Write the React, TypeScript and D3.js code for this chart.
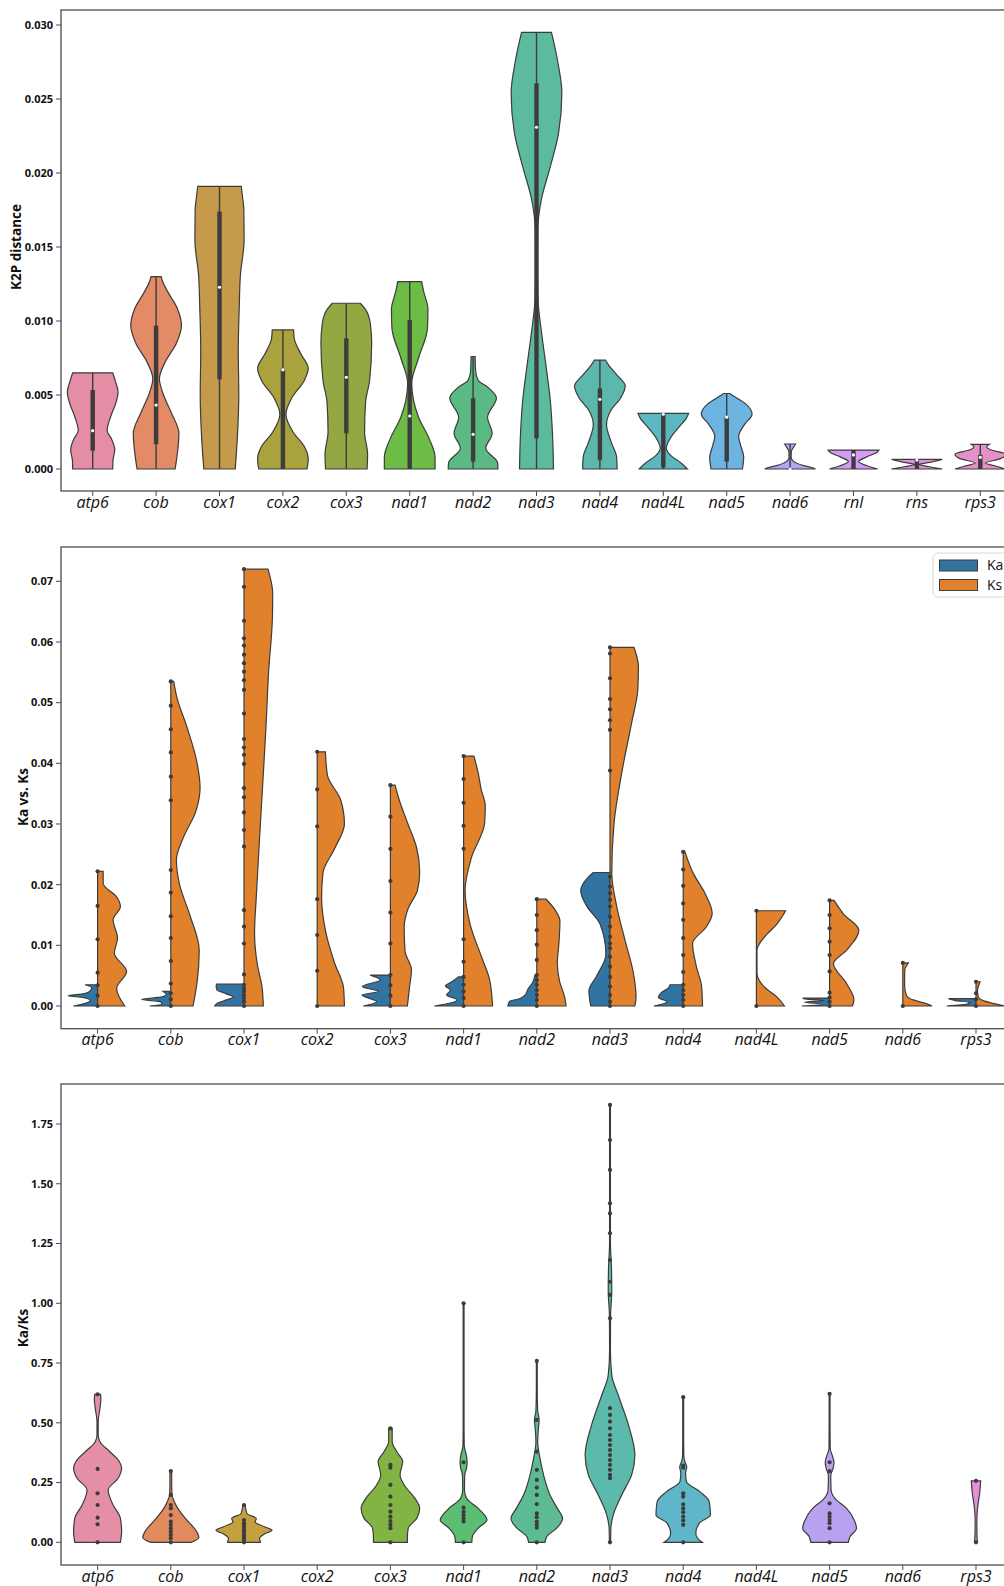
import React from 'react';
import * as d3 from 'd3';

type Prof = [number, number][];

const genesK2P = ['atp6', 'cob', 'cox1', 'cox2', 'cox3', 'nad1', 'nad2', 'nad3', 'nad4', 'nad4L', 'nad5', 'nad6', 'rnl', 'rns', 'rps3'];
const genesKaKs = ['atp6', 'cob', 'cox1', 'cox2', 'cox3', 'nad1', 'nad2', 'nad3', 'nad4', 'nad4L', 'nad5', 'nad6', 'rps3'];

const k2pColors = ['#e48da5', '#e38a66', '#c59a4a', '#a9a23d', '#93a843', '#6dbc45', '#5bba84', '#5cbb9e', '#5cb8ac', '#5bb8c1', '#6db4e3', '#b1a7f6', '#d59af3', '#de92e1', '#e68fc9'];
const ratioColors = ['#e58fa6', '#e18a5e', '#c4a03f', '#a9a23d', '#82b443', '#5cbe72', '#5cbb93', '#5bbaac', '#5eb6c8', '#5bb8c1', '#b8a2f0', '#b1a7f6', '#e58fd6'];
const kaColor = '#3274a1';
const ksColor = '#e1812c';

const k2pTicks = [0, 0.005, 0.01, 0.015, 0.02, 0.025, 0.03];
const kaksTicks = [0, 0.01, 0.02, 0.03, 0.04, 0.05, 0.06, 0.07];
const ratioTicks = [0, 0.25, 0.5, 0.75, 1.0, 1.25, 1.5, 1.75];

// violin outlines: [value, relative half width]
const k2pShape: Prof[] = [
  [[0, 0.79], [0.0006, 0.8], [0.0013, 0.87], [0.002, 0.75], [0.0026, 0.57], [0.0035, 0.7], [0.0045, 0.92], [0.0052, 1.0], [0.0059, 0.9], [0.0065, 0.79]],
  [[0, 0.75], [0.0008, 0.82], [0.0024, 0.9], [0.0038, 0.6], [0.0052, 0.25], [0.0061, 0.13], [0.0072, 0.35], [0.0085, 0.8], [0.0097, 1.0], [0.0108, 0.85], [0.012, 0.45], [0.0127, 0.25], [0.013, 0.2]],
  [[0, 0.62], [0.002, 0.7], [0.005, 0.76], [0.008, 0.74], [0.011, 0.78], [0.013, 0.82], [0.0155, 0.97], [0.0175, 0.96], [0.0185, 0.9], [0.0191, 0.86]],
  [[0, 0.95], [0.0007, 1.0], [0.0015, 0.85], [0.0025, 0.4], [0.0037, 0.12], [0.0048, 0.35], [0.006, 0.85], [0.0068, 1.0], [0.0078, 0.7], [0.0088, 0.45], [0.0094, 0.42]],
  [[0, 0.82], [0.001, 0.84], [0.0025, 0.72], [0.0045, 0.76], [0.006, 0.92], [0.0085, 1.0], [0.0098, 0.95], [0.0108, 0.75], [0.0112, 0.55]],
  [[0, 1.0], [0.0008, 1.0], [0.002, 0.78], [0.0035, 0.35], [0.0058, 0.08], [0.0075, 0.35], [0.0095, 0.7], [0.0108, 0.72], [0.012, 0.55], [0.01266, 0.47]],
  [[0, 0.98], [0.0004, 0.97], [0.0014, 0.5], [0.0024, 0.75], [0.0035, 0.57], [0.0048, 0.92], [0.0055, 0.6], [0.006, 0.2], [0.0066, 0.1], [0.0076, 0.08]],
  [[0, 0.67], [0.0024, 0.63], [0.0047, 0.54], [0.0069, 0.38], [0.0092, 0.2], [0.0114, 0.06], [0.0137, 0.03], [0.0159, 0.04], [0.0182, 0.19], [0.0204, 0.54], [0.0227, 0.87], [0.0254, 1.0], [0.0276, 0.83], [0.0295, 0.59]],
  [[0, 0.68], [0.0008, 0.66], [0.0018, 0.45], [0.003, 0.26], [0.004, 0.45], [0.0048, 0.82], [0.0056, 1.0], [0.0064, 0.65], [0.007, 0.35], [0.00736, 0.22]],
  [[0, 0.95], [0.0004, 0.7], [0.0009, 0.3], [0.0014, 0.12], [0.002, 0.25], [0.0028, 0.6], [0.0034, 0.9], [0.00376, 1.0]],
  [[0, 0.62], [0.0008, 0.67], [0.0016, 0.55], [0.0022, 0.47], [0.003, 0.7], [0.0037, 1.0], [0.0044, 0.75], [0.0049, 0.3], [0.0051, 0.12]],
  [[0, 1.0], [0.0001, 0.85], [0.00025, 0.5], [0.0005, 0.15], [0.0008, 0.04], [0.0012, 0.05], [0.0015, 0.15], [0.00169, 0.22]],
  [[0, 0.95], [0.0002, 0.55], [0.0005, 0.2], [0.0008, 0.5], [0.0011, 0.9], [0.00128, 1.0]],
  [[0, 1.0], [0.00015, 0.5], [0.0003, 0.08], [0.00045, 0.5], [0.00065, 1.0]],
  [[0, 1.0], [0.0002, 0.6], [0.0004, 0.2], [0.0007, 0.8], [0.001, 1.0], [0.0013, 0.4], [0.0015, 0.25], [0.00167, 0.36]],
];
const k2pQ1 = [0.00124, 0.00167, 0.00606, 0, 0.00241, 0, 0.0005, 0.00207, 0.0006, 0.0001, 0.0005, 0, 0, 0, 0];
const k2pMedian = [0.00259, 0.00432, 0.01228, 0.0067, 0.0062, 0.00358, 0.00234, 0.02309, 0.00471, 0.0037, 0.0035, 0, 0.00095, 0.0006, 0.00079];
const k2pQ3 = [0.00534, 0.00968, 0.01739, 0.00674, 0.00883, 0.01007, 0.00478, 0.02606, 0.00545, 0.0037, 0.00353, 0.00005, 0.00128, 0.00065, 0.00095];

const kaShape: Prof[] = [
  [[0, 0.83], [0.0004, 0.45], [0.0009, 0.25], [0.0014, 0.5], [0.0017, 1.0], [0.002, 0.5], [0.0025, 0.25], [0.003, 0.2], [0.0035, 0.43]],
  [[0, 0.72], [0.0003, 0.3], [0.0007, 0.35], [0.0011, 1.0], [0.0015, 0.3], [0.0019, 0.15], [0.0024, 0.26]],
  [[0, 1.0], [0.0005, 0.9], [0.001, 0.6], [0.0015, 0.37], [0.002, 0.6], [0.0027, 0.93], [0.0033, 0.95], [0.0036, 0.94]],
  [],
  [[0, 0.93], [0.0007, 0.47], [0.0018, 0.97], [0.0024, 0.42], [0.0032, 0.96], [0.0043, 0.35], [0.0051, 0.69]],
  [[0, 1.0], [0.0005, 0.45], [0.001, 0.22], [0.0018, 0.58], [0.0026, 0.45], [0.0033, 0.62], [0.004, 0.4], [0.0048, 0.18]],
  [[0, 0.99], [0.0008, 0.92], [0.0012, 0.6], [0.0018, 0.4], [0.0028, 0.3], [0.0038, 0.15], [0.0051, 0.06]],
  [[0, 0.66], [0.0025, 0.72], [0.005, 0.45], [0.0085, 0.14], [0.0135, 0.34], [0.0165, 0.8], [0.019, 1.0], [0.0212, 0.75], [0.022, 0.57]],
  [[0, 1.0], [0.0007, 0.55], [0.0014, 0.85], [0.0022, 0.75], [0.003, 0.5], [0.0035, 0.45]],
  [],
  [[0, 0.95], [0.0003, 0.2], [0.0006, 0.85], [0.0009, 0.2], [0.0012, 0.9], [0.0013, 0.9]],
  [],
  [[0, 1.0], [0.0003, 0.3], [0.0006, 0.2], [0.0009, 0.7], [0.0012, 0.94]],
];

const ksShape: Prof[] = [
  [[0, 0.93], [0.0029, 0.65], [0.0057, 0.99], [0.0087, 0.57], [0.0112, 0.68], [0.0142, 0.53], [0.0164, 0.78], [0.018, 0.65], [0.0202, 0.19], [0.0222, 0.19]],
  [[0, 0.76], [0.004, 0.9], [0.0092, 0.97], [0.015, 0.65], [0.02, 0.3], [0.0241, 0.19], [0.028, 0.45], [0.032, 0.85], [0.036, 1.0], [0.04, 0.9], [0.046, 0.55], [0.051, 0.2], [0.0535, 0.1]],
  [[0, 0.66], [0.003, 0.62], [0.007, 0.45], [0.012, 0.36], [0.018, 0.42], [0.025, 0.5], [0.035, 0.62], [0.045, 0.74], [0.055, 0.84], [0.064, 0.97], [0.068, 0.98], [0.072, 0.82]],
  [[0, 0.93], [0.003, 0.9], [0.007, 0.6], [0.012, 0.3], [0.018, 0.15], [0.022, 0.2], [0.026, 0.6], [0.03, 0.93], [0.034, 0.8], [0.038, 0.35], [0.0419, 0.28]],
  [[0, 0.58], [0.003, 0.65], [0.006, 0.72], [0.009, 0.5], [0.013, 0.47], [0.016, 0.6], [0.019, 0.92], [0.022, 1.0], [0.026, 0.9], [0.03, 0.6], [0.034, 0.3], [0.0364, 0.16]],
  [[0, 0.99], [0.0045, 0.88], [0.008, 0.62], [0.0135, 0.22], [0.0191, 0.05], [0.0245, 0.27], [0.0302, 0.72], [0.033, 0.74], [0.0357, 0.6], [0.0384, 0.5], [0.0412, 0.35]],
  [[0, 1.0], [0.0015, 0.95], [0.004, 0.78], [0.007, 0.7], [0.01, 0.75], [0.014, 0.79], [0.016, 0.6], [0.0176, 0.32]],
  [[0, 0.85], [0.0015, 0.89], [0.0054, 0.8], [0.0109, 0.51], [0.0164, 0.23], [0.0219, 0.06], [0.0302, 0.14], [0.0384, 0.4], [0.0467, 0.74], [0.0522, 0.95], [0.056, 0.97], [0.0591, 0.82]],
  [[0, 0.66], [0.0032, 0.63], [0.0065, 0.45], [0.0103, 0.32], [0.0131, 0.8], [0.0153, 0.99], [0.0186, 0.74], [0.0219, 0.34], [0.0254, 0.06]],
  [[0, 0.96], [0.0015, 0.7], [0.003, 0.3], [0.0054, 0.02], [0.0092, 0.02], [0.0115, 0.3], [0.0135, 0.7], [0.0157, 1.0]],
  [[0, 0.78], [0.001, 0.83], [0.0037, 0.58], [0.007, 0.13], [0.0092, 0.58], [0.0125, 1.0], [0.0152, 0.47], [0.0174, 0.15]],
  [[0, 1.0], [0.0004, 0.8], [0.001, 0.35], [0.0018, 0.12], [0.0035, 0.06], [0.006, 0.07], [0.0068, 0.15], [0.0071, 0.19]],
  [[0, 1.0], [0.0003, 0.7], [0.0008, 0.3], [0.0015, 0.08], [0.0025, 0.05], [0.0035, 0.1], [0.004, 0.14]],
];

const kaksPoints = [
  [0, 0.0017, 0.0034, 0.0055, 0.011, 0.0165, 0.0222],
  [0, 0.0011, 0.0021, 0.0037, 0.0074, 0.0112, 0.0148, 0.0187, 0.0224, 0.0339, 0.0378, 0.0418, 0.0456, 0.0495, 0.0535],
  [0, 0.0007, 0.0013, 0.0018, 0.0024, 0.0029, 0.0035, 0.0052, 0.0103, 0.0131, 0.0158, 0.0263, 0.029, 0.0319, 0.0344, 0.0359, 0.0399, 0.0414, 0.0426, 0.044, 0.0482, 0.0521, 0.0537, 0.0551, 0.0565, 0.0579, 0.0594, 0.0606, 0.0635, 0.0691, 0.072],
  [0, 0.0058, 0.0117, 0.0176, 0.0296, 0.0357, 0.0419],
  [0, 0.0017, 0.0034, 0.0051, 0.0103, 0.0154, 0.0206, 0.0259, 0.0312, 0.0364],
  [0, 0.0013, 0.0024, 0.0035, 0.0048, 0.0073, 0.011, 0.0259, 0.0297, 0.0335, 0.0374, 0.0412],
  [0, 0.001, 0.0018, 0.0026, 0.0035, 0.0043, 0.0051, 0.0076, 0.0101, 0.0125, 0.015, 0.0176],
  [0, 0.0007, 0.0018, 0.0032, 0.0048, 0.0065, 0.0081, 0.0095, 0.0103, 0.0114, 0.0131, 0.0147, 0.0164, 0.0175, 0.0186, 0.0197, 0.0213, 0.0388, 0.0455, 0.0471, 0.0489, 0.0506, 0.054, 0.0581, 0.0591],
  [0, 0.001, 0.0018, 0.0026, 0.0035, 0.0056, 0.0084, 0.0112, 0.0142, 0.0169, 0.0198, 0.0225, 0.0254],
  [0, 0.0157],
  [0, 0.0007, 0.0014, 0.0022, 0.0057, 0.0084, 0.0106, 0.0128, 0.015, 0.0174],
  [0, 0.0071],
  [0, 0.0011, 0.0021, 0.004],
];

const ratioShape: Prof[] = [
  [[0, 0.78], [0.045, 0.82], [0.1, 0.78], [0.156, 0.53], [0.219, 0.36], [0.268, 0.7], [0.31, 0.82], [0.338, 0.74], [0.379, 0.42], [0.421, 0.08], [0.449, 0.02], [0.505, 0.02], [0.56, 0.08], [0.6, 0.11], [0.619, 0.1]],
  [[0, 0.7], [0.02, 0.96], [0.045, 0.88], [0.1, 0.5], [0.14, 0.25], [0.17, 0.12], [0.2, 0.04], [0.25, 0.03], [0.298, 0.03]],
  [[0, 0.56], [0.017, 0.53], [0.035, 0.7], [0.05, 0.96], [0.065, 0.7], [0.085, 0.38], [0.1, 0.42], [0.12, 0.1], [0.156, 0.04]],
  [],
  [[0, 0.58], [0.024, 0.58], [0.059, 0.61], [0.1, 0.9], [0.142, 1.0], [0.184, 0.84], [0.24, 0.47], [0.282, 0.33], [0.338, 0.42], [0.379, 0.22], [0.421, 0.06], [0.477, 0.06]],
  [[0, 0.28], [0.024, 0.3], [0.059, 0.5], [0.093, 0.8], [0.142, 0.5], [0.184, 0.1], [0.22, 0.03], [0.282, 0.04], [0.31, 0.1], [0.335, 0.12], [0.36, 0.1], [0.407, 0.02], [0.5, 0.015], [1.0, 0.015]],
  [[0, 0.28], [0.024, 0.34], [0.059, 0.68], [0.1, 0.88], [0.142, 0.7], [0.198, 0.45], [0.282, 0.23], [0.351, 0.11], [0.421, 0.03], [0.47, 0.05], [0.512, 0.08], [0.55, 0.03], [0.65, 0.015], [0.759, 0.015]],
  [[0, 0.02], [0.059, 0.03], [0.114, 0.11], [0.198, 0.4], [0.282, 0.74], [0.365, 0.85], [0.491, 0.63], [0.616, 0.28], [0.7, 0.06], [0.8, 0.015], [0.95, 0.02], [1.05, 0.06], [1.15, 0.05], [1.25, 0.015], [1.83, 0.015]],
  [[0, 0.65], [0.015, 0.5], [0.038, 0.43], [0.08, 0.55], [0.114, 0.93], [0.17, 0.89], [0.212, 0.57], [0.254, 0.11], [0.29, 0.08], [0.315, 0.12], [0.34, 0.05], [0.365, 0.02], [0.45, 0.015], [0.607, 0.015]],
  [],
  [[0, 0.64], [0.024, 0.7], [0.059, 0.92], [0.087, 0.86], [0.142, 0.58], [0.184, 0.18], [0.22, 0.05], [0.28, 0.04], [0.31, 0.12], [0.335, 0.15], [0.36, 0.1], [0.393, 0.02], [0.5, 0.015], [0.621, 0.015]],
  [],
  [[0, 0.05], [0.05, 0.03], [0.1, 0.03], [0.15, 0.06], [0.2, 0.12], [0.2566, 0.16]],
];

const ratioPoints = [
  [0, 0.075, 0.103, 0.156, 0.205, 0.307, 0.619],
  [0, 0.017, 0.031, 0.045, 0.059, 0.073, 0.087, 0.114, 0.142, 0.156, 0.198, 0.298],
  [0, 0.01, 0.02, 0.03, 0.04, 0.05, 0.06, 0.07, 0.08, 0.093, 0.156],
  [],
  [0, 0.059, 0.073, 0.089, 0.107, 0.128, 0.156, 0.191, 0.24, 0.312, 0.324, 0.477],
  [0, 0.087, 0.1, 0.114, 0.128, 0.145, 0.335, 1.0],
  [0, 0.061, 0.073, 0.087, 0.105, 0.121, 0.16, 0.198, 0.229, 0.261, 0.303, 0.379, 0.512, 0.759],
  [0, 0.268, 0.282, 0.303, 0.324, 0.344, 0.365, 0.386, 0.407, 0.428, 0.449, 0.477, 0.505, 0.533, 0.561, 0.937, 1.035, 1.09, 1.181, 1.293, 1.376, 1.418, 1.558, 1.683, 1.83],
  [0, 0.073, 0.091, 0.107, 0.126, 0.142, 0.159, 0.191, 0.205, 0.312, 0.321, 0.607],
  [],
  [0, 0.059, 0.08, 0.093, 0.107, 0.121, 0.163, 0.298, 0.335, 0.621],
  [],
  [0, 0.257],
];

const INK = '#3c3c3c';
const SPINE = '#4d4d4d';
const FONT = '"Open Sans", "DejaVu Sans", sans-serif';

function violinPath(p: Prof, cx: number, half: number, y: d3.ScaleLinear<number, number>, side: 'both' | 'left' | 'right') {
  const area = d3.area<[number, number]>()
    .y(d => y(d[0]))
    .x0(d => (side === 'right' ? cx : cx - d[1] * half))
    .x1(d => (side === 'left' ? cx : cx + d[1] * half))
    .curve(d3.curveMonotoneY);
  return area(p) || '';
}

function Frame({ left, right, top, bottom, y, ticks, fmt, x, genes, label, labelX, labelY, labelBase }: any) {
  return (
    <g>
      <rect x={left} y={top} width={right - left} height={bottom - top} fill="none" stroke={SPINE} strokeWidth={1.3} />
      {ticks.map((t: number) => (
        <g key={t}>
          <line x1={left - 5} x2={left} y1={y(t)} y2={y(t)} stroke={SPINE} strokeWidth={1} />
          <text x={left - 8} y={y(t)} dy="0.35em" textAnchor="end" fontSize={11} fontWeight="bold" fontFamily={FONT} fill="#111">{fmt(t)}</text>
        </g>
      ))}
      {genes.map((g: string) => {
        const cx = x(g)! + x.bandwidth() / 2;
        return (
          <g key={g}>
            <line x1={cx} x2={cx} y1={bottom} y2={bottom + 5} stroke={SPINE} strokeWidth={1} />
            <text x={cx} y={labelBase} textAnchor="middle" fontSize={16} fontStyle="italic" fontFamily={FONT} fill="#111">{g}</text>
          </g>
        );
      })}
      <text transform={`translate(${labelX},${labelY}) rotate(-90)`} textAnchor="middle" dy="0.35em" fontSize={13.5} fontWeight="bold" fontFamily={FONT} fill="#111">{label}</text>
    </g>
  );
}

export default function App() {
  // panel 1: K2P distance
  const x1 = d3.scaleBand<string>().domain(genesK2P).range([61, 61 + 15 * 63.4]);
  const y1 = d3.scaleLinear().domain([0, 0.03]).range([469, 25]);
  const half1 = x1.bandwidth() * 0.4;

  // panel 2: Ka vs Ks
  const x2 = d3.scaleBand<string>().domain(genesKaKs).range([61, 61 + 13 * 73.2]);
  const y2 = d3.scaleLinear().domain([0, 0.07]).range([1006, 581.3]);
  const half2 = x2.bandwidth() * 0.4;

  // panel 3: Ka/Ks
  const y3 = d3.scaleLinear().domain([0, 1.75]).range([1542.3, 1124]);

  return (
    <svg width={1004} height={1586} style={{ position: 'absolute', left: 0, top: 0, display: 'block', background: '#fff' }}>
      <rect width={1004} height={1586} fill="#fff" />

      <Frame left={61} right={1013} top={10} bottom={491} y={y1} ticks={k2pTicks} fmt={d3.format('.3f')}
        x={x1} genes={genesK2P} label="K2P distance" labelX={16} labelY={247} labelBase={508} />
      {genesK2P.map((g, i) => {
        const cx = x1(g)! + x1.bandwidth() / 2;
        const p = k2pShape[i];
        const lo = p[0][0], hi = p[p.length - 1][0];
        return (
          <g key={g}>
            <path d={violinPath(p, cx, half1, y1, 'both')} fill={k2pColors[i]} stroke={INK} strokeWidth={1.2} />
            <line x1={cx} x2={cx} y1={y1(lo)} y2={y1(hi)} stroke={INK} strokeWidth={1.4} />
            <rect x={cx - 2.2} width={4.4} y={y1(k2pQ3[i])} height={Math.max(1, y1(k2pQ1[i]) - y1(k2pQ3[i]))} fill={INK} />
            <circle cx={cx} cy={y1(k2pMedian[i])} r={1.6} fill="#fff" />
          </g>
        );
      })}

      <Frame left={61} right={1013} top={547} bottom={1028.7} y={y2} ticks={kaksTicks} fmt={d3.format('.2f')}
        x={x2} genes={genesKaKs} label="Ka vs. Ks" labelX={23} labelY={797} labelBase={1045} />
      {genesKaKs.map((g, i) => {
        const cx = x2(g)! + x2.bandwidth() / 2;
        return (
          <g key={g}>
            {kaShape[i].length > 0 && (
              <path d={violinPath(kaShape[i], cx, half2, y2, 'left')} fill={kaColor} stroke={INK} strokeWidth={1.2} />
            )}
            <path d={violinPath(ksShape[i], cx, half2, y2, 'right')} fill={ksColor} stroke={INK} strokeWidth={1.2} />
            {kaksPoints[i].map((v, j) => (
              <circle key={j} cx={cx} cy={y2(v)} r={2.1} fill={INK} />
            ))}
          </g>
        );
      })}
      <g>
        <rect x={933} y={553} width={90} height={44} rx={5} fill="#fff" fillOpacity={0.8} stroke="#d8d8d8" strokeWidth={1} />
        <rect x={939.5} y={560} width={38} height={11} fill={kaColor} stroke={INK} strokeWidth={1} />
        <rect x={939.5} y={579.5} width={38} height={11} fill={ksColor} stroke={INK} strokeWidth={1} />
        <text x={987} y={570} fontSize={14} fontFamily={FONT} fill="#111">Ka</text>
        <text x={987} y={590} fontSize={14} fontFamily={FONT} fill="#111">Ks</text>
      </g>

      <Frame left={61} right={1013} top={1084} bottom={1565} y={y3} ticks={ratioTicks} fmt={d3.format('.2f')}
        x={x2} genes={genesKaKs} label="Ka/Ks" labelX={23} labelY={1328} labelBase={1582} />
      {genesKaKs.map((g, i) => {
        const cx = x2(g)! + x2.bandwidth() / 2;
        if (ratioShape[i].length === 0) return null;
        return (
          <g key={g}>
            <path d={violinPath(ratioShape[i], cx, half2, y3, 'both')} fill={ratioColors[i]} stroke={INK} strokeWidth={1.2} />
            {ratioPoints[i].map((v, j) => (
              <circle key={j} cx={cx} cy={y3(v)} r={2.1} fill={INK} />
            ))}
          </g>
        );
      })}
    </svg>
  );
}
